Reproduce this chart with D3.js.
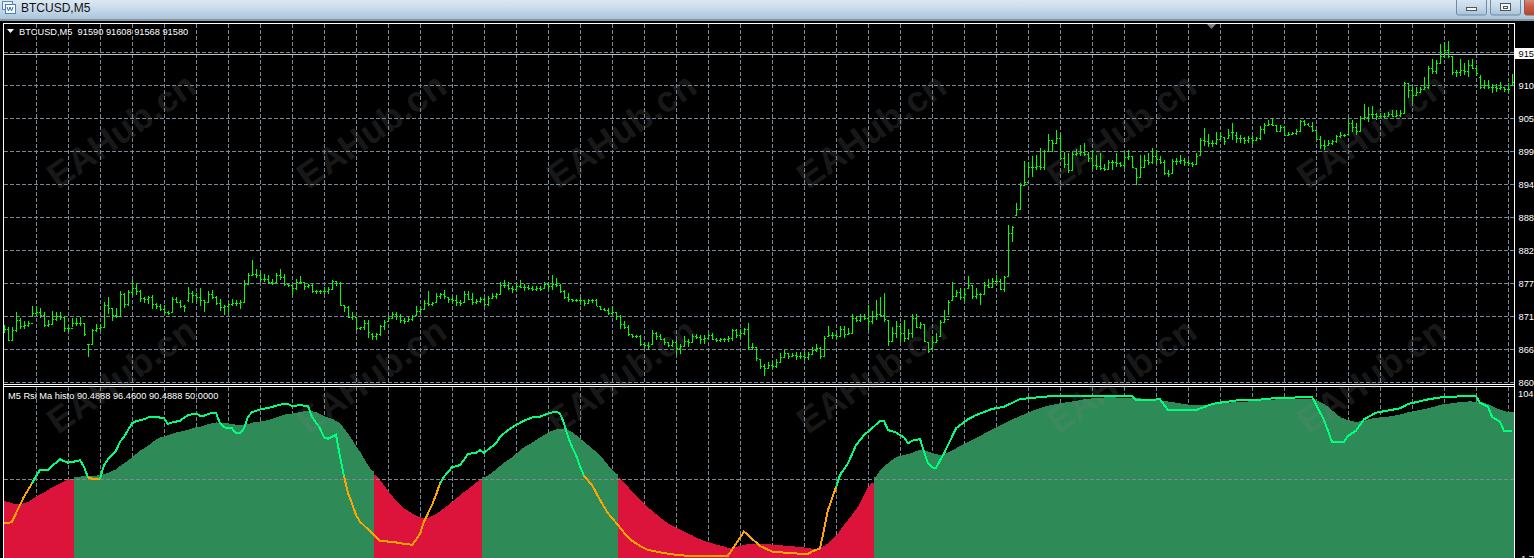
<!DOCTYPE html>
<html>
<head>
<meta charset="utf-8">
<title>BTCUSD,M5</title>
<script src="https://cdnjs.cloudflare.com/ajax/libs/d3/7.8.5/d3.min.js"></script>
<style>
  html, body { margin: 0; padding: 0; background: #000; overflow: hidden; }
  svg { display: block; }
  text { font-family: "Liberation Sans", Arial, sans-serif; }
</style>
</head>
<body>
<div id="chart"></div>
<script>
// price values are in hundreds (871.3 = 87130)
const highs = [
  869.5,869.2,869.1,871.6,870.6,870.1,870.2,872.7,872.7,872.4,871.6,870.3,871.9,871.7,871.6,871,869.5,870.7,870.6,870.8,
  869.9,866.4,868.8,869.7,869.7,873.4,874.1,872.3,872.3,875.2,874.9,875.3,877,876.4,875.3,874.2,874.3,874.5,873.1,873,
  872.8,871.9,874.2,874.1,873.7,872.8,875.9,875.2,874.8,875.6,873.7,875.1,875.3,874.3,873.8,872.8,873.2,873.8,873.7,873.6,
  877,878.2,880.3,878.9,878.1,878,877.8,877.1,878.2,878.8,878,876.4,876.4,877.1,877.7,876.7,876.4,876.3,875.4,875.4,
  875.8,875.8,877,876.9,876.6,872.8,872.7,871.7,870.8,869.2,870.3,870.4,868.1,868.1,869.5,870.4,871,871.6,871.7,
  871.3,870.6,870.8,871.2,872.6,872.3,873.6,875.1,873.4,874.8,874.9,875.4,874.2,874.2,874.5,873.6,875.1,875.2,874.8,873.9,
  874.1,874.2,874.3,874.9,874.9,876.7,877,876.7,876,876.3,877,876.3,876.2,876,876,876,876.7,876.7,877.8,877.3,
  876.4,875.3,874.8,873.9,873.9,874.2,873.6,873.8,873.9,873.8,872.7,872.4,872.3,872.6,871.7,871.2,870.2,869.5,868,867.8,
  867.8,866.7,866.7,868.7,868.4,868,867.4,866.7,867,867,866.3,867.6,867.1,868,868,867.8,867.8,868,868.1,867.3,
  867.4,867.4,867.6,868.8,868.9,868.8,869,869.9,866.5,865.8,863.9,863,863.4,863.5,863.9,864.8,865.3,864.8,864.9,865,
  865,865,865,865.8,866.3,865.9,867.7,869.3,868.4,868.4,869.3,869.3,869,871.4,871,871.4,871.4,872.8,871.9,873.7,
  874.2,874.8,870.4,869.2,870.2,869.9,870.3,868.8,871.4,871.3,870,869.7,866.7,867.6,868.1,870.3,872,873.7,876.6,875.3,
  875.6,875.6,877.6,876.2,875.6,874.9,876.7,877.1,877.3,877.8,877.1,877.7,886.2,886,889.8,893.1,896.9,896.7,897.6,897.8,
  899,898.7,901.4,900.4,902,901.4,898.4,898.1,898.4,898.8,899.5,899.8,898.4,898.7,897.8,898.1,896.4,897,897,898.1,
  896.7,898.4,898.6,897.6,895.6,897.8,897.8,898.1,899,898.7,897.6,897,895.3,897.1,897.3,897.8,897.4,897,896.7,898.1,
  900.6,902.4,901.3,900.3,901.7,901.7,900.8,902.1,903.1,901.6,901.2,900.8,901,901,900.9,902.6,903.1,903.6,904,902.8,
  902.8,902.7,901.7,901.7,902.1,903.7,903.7,903.1,903.4,902,901,900.3,900.4,900.4,901.2,901.6,901.4,903.8,903.6,903.2,
  904.3,906.4,905.8,906,904.9,904.8,904.8,905,905.3,905.3,905.4,910,909.9,909.1,909.2,909.2,910.9,912.7,913.8,913.7,
  916.3,916.7,916.8,914.3,912,913.8,913.1,913.6,913.8,912.8,911.2,910.3,910.3,909.7,909.7,910,909.1,909.8,911.3
];
const lows = [
  868.2,866.9,866.9,868.4,868.9,868.9,869.2,870.9,871,870.6,869.1,869.1,869.7,870.2,870.4,868.4,868.4,869.2,869.3,869.3,
  867.7,864.2,866.3,868.4,868.5,869.2,871.4,870.1,870.6,870.8,872.3,872.6,874.3,874.5,873.4,873.2,873,872.1,872.1,871.9,
  871.4,871.2,871.6,873.1,872.4,871.7,873.4,873.2,873.4,872.6,871.7,873.2,873.8,872.8,871.9,871.2,871.7,872.6,872.6,872.1,
  873.4,876.2,877.7,877.3,876.6,876.6,876.4,876.2,876.6,877,876,875.8,874.5,875.4,876.4,875.4,875.6,874.8,874.7,874.7,
  874.7,874.7,875.3,876,872.7,871.6,870.6,870.4,868.7,868.7,868.7,867.4,867,867,867.7,868.7,870.2,870.6,870.4,
  869.9,869.7,870.1,870.1,871.2,871.4,872.1,872.6,872.6,873.4,873.9,873.9,873.2,873.1,872.7,872.6,873.4,873.6,872.8,873,
  873.1,872.6,872.7,873.9,873.8,874.7,875.6,875.4,874.9,875.1,875.6,875.2,875.3,875.1,875.1,875.1,875.6,875.4,875.4,875.9,
  874.9,873.9,873.4,873.4,873.4,872.8,872.6,873,873.1,872.6,872,871.9,871.2,871.2,870.4,868.9,868.9,867.7,867.4,867.4,
  866,865.6,865.3,866.4,867,867,866.2,865.8,865.8,864.5,864.7,865.8,865.8,866.6,867.1,866.4,866.4,867.1,867,866.6,
  866.6,866.7,866.7,866.9,867.4,867.4,867.8,865.4,865.3,863.5,862.1,861,862.4,862.3,862.3,863.2,864.1,863.9,864.1,863.7,
  863.9,863.6,863.6,864.5,865,863.9,864.1,867.6,867.1,867.1,867.6,867.3,868,868.1,870,870,870.3,868.6,869.7,870.3,
  870.9,870,866,866.7,867.3,866.7,866.6,867,867.3,869,868.8,866.7,864.9,865.6,866.6,867.6,870,871.2,873.6,874.1,
  873.7,873.4,875.6,873.8,873.9,872.8,874.5,875.6,875.8,876.5,875.3,875,877.6,883.4,887.8,888.7,892.8,894.2,894.2,895.3,
  895.3,895.3,898.4,898.4,899.8,897,895.6,894.9,895.1,897.6,897.6,897.6,896.7,895.3,895.3,895.3,895.2,895.3,895.3,895.9,
  895.8,895.6,897,895.6,892.8,894.2,895.9,896.2,896.4,896.4,896.4,894.5,894.2,894.8,896.2,896.3,896,896,895.9,896.2,
  897.8,899.3,899.2,899.2,899.5,900.3,899.5,900.6,900.4,899.9,899.8,899.7,899.8,899.7,900.3,900.3,901.4,902.6,902.6,901.7,
  901.6,901,901,901.2,901.2,901.7,902.6,902.6,901.7,900.3,898.8,898.6,899.5,899.5,899.8,900.6,900.8,901.3,901.7,901.2,
  901.6,903.6,903.4,903.9,903.7,904,904,904.1,904.1,904.1,904.1,904.8,907.3,906.4,907.6,908.1,908.6,908.8,911.4,911.4,
  913.1,914,914,911.2,910.9,911,911.2,910.8,912.1,911,908.8,908.9,908.8,908.2,908.4,908.6,908.4,908.2,909.5
];
const closes = [
  868.9,867,868.6,870.3,869.3,869.5,869.8,871.5,871.6,871.2,869.5,869.7,870.5,871,870.8,869,869,869.9,869.8,869.8,
  868,866.3,868.6,869,869.1,872.9,872.3,871.2,871,874.6,873,875,875.6,875.2,874,873.9,874.1,873,872.7,872.2,
  871.7,871.5,873.9,873.3,872.6,872.5,874.8,874.5,874.2,873.6,873.3,874.6,874.1,873.2,872.5,872.6,873,873.2,873.2,873.4,
  876.4,877.9,878,877.9,877.2,877.1,876.7,876.5,877.9,877.5,876.3,876.2,875.7,876.6,876.6,876,876.1,875.2,875.1,875.1,
  875.1,875.5,876.8,876.5,872.9,872.5,870.8,871,869,869.1,869.9,868.3,867.7,868,869.3,870,870.7,871.3,871,
  870.3,870.1,870.5,871,871.9,872.1,873.1,873,873.2,874.3,874.6,874.4,873.8,873.6,873.3,873.1,874.6,873.8,873.4,873.5,
  873.9,873,874,874.4,874.6,876.2,876.1,875.7,875.5,876,875.9,875.8,875.7,875.5,875.6,875.5,876.3,876,876.4,876.2,
  875.2,874.2,873.8,873.7,873.6,873.6,873.2,873.7,873.6,872.7,872.2,872,871.5,871.6,871,869.7,869.2,868,867.7,867.6,
  866.4,866.2,866,868.2,867.6,867.2,866.6,866.1,866.6,865.6,866,866.9,866.6,867.6,867.5,867.1,867.4,867.9,867.2,867,
  867.1,867.2,867.3,868.6,867.9,868.2,868.9,865.9,865.9,864,862.6,862.4,862.8,862.6,863.4,864.2,864.8,864.3,864.5,864.4,
  864.4,864.2,864.6,865.4,865.6,864.3,867.4,867.9,867.8,867.7,868.8,868,868.2,870.6,870.4,871,870.7,870.2,871,871.3,
  871.2,870.5,866.8,868.2,869.4,868.2,867.4,868.1,870.7,869.2,869.6,866.9,865.2,866.6,867,870,870.5,873.4,874.4,875,
  874.2,874.6,876.2,874.4,874.7,874.6,876.2,875.9,876.8,876.9,875.5,877.5,884.8,885.9,888.9,892.9,893.4,895.9,895.8,896,
  895.9,898.5,900.3,899.9,900.6,897.4,896.3,895.3,898,898.2,898.3,898,897.4,896.1,896,895.6,895.5,896.6,896.6,896.5,
  896.2,897.5,897.6,895.9,894.1,895.9,897,896.6,897.6,897.2,896.6,894.8,894.7,896.9,896.8,897,896.6,896.5,896.3,897.6,
  900.4,900.2,899.8,899.9,900.5,901,900.1,901.2,901.6,900.6,900.6,900.3,900.7,900.4,900.6,902.2,902.8,903,902.9,901.8,
  902.5,901.2,901.3,901.5,901.9,903.5,903,902.7,902,900.5,899.5,899.3,899.8,900.2,901,901.1,901.2,903.2,902.5,901.9,
  904,904.2,904.6,904.6,904.3,904.3,904.4,904.6,904.4,904.5,904.9,909.8,908.6,907.9,908.4,908.8,909.1,912.3,911.8,913.2,
  914.3,915.3,914.4,911.6,911.6,912,911.8,912.8,912.4,911.5,909.2,909.5,909.2,909.2,909,909.2,908.8,908.9,910
];
const opens = [
  869,868.9,867,868.6,870.3,869.3,869.5,869.8,871.5,871.6,871.2,869.5,869.7,870.5,871,870.8,869,869,869.9,869.8,
  869.8,866.4,866.3,868.6,869,869.1,872.9,872.3,871.2,871,874.6,873,875,875.6,875.2,874,873.9,874.1,873,872.7,
  872.2,871.7,871.6,873.9,873.3,872.6,873.6,874.8,874.5,874.2,873.6,873.3,874.6,874.1,873.2,872.5,872.6,873,873.2,873.2,
  873.4,876.4,877.9,878,877.9,877.2,877.1,876.7,876.6,877.9,877.5,876.3,876.2,875.7,876.6,876.6,876,876.1,875.2,875.1,
  875.1,875.1,875.5,876.8,876.5,872.8,872.5,870.8,870.8,869,869.1,869.9,868,867.7,868,869.3,870.2,870.7,871.3,
  871,870.3,870.1,870.5,871.2,871.9,872.1,873.1,873,873.4,874.3,874.6,874.2,873.8,873.6,873.3,873.4,874.6,873.8,873.4,
  873.5,873.9,873,874,874.4,874.7,876.2,876.1,875.7,875.5,876,875.9,875.8,875.7,875.5,875.6,875.6,876.3,876,876.4,
  876.2,875.2,874.2,873.8,873.7,873.6,873.6,873.2,873.7,873.6,872.7,872.2,872,871.5,871.6,871,869.7,869.2,868,867.7,
  867.6,866.4,866.2,866.4,868.2,867.6,867.2,866.6,866.1,866.6,865.6,866,866.9,866.6,867.6,867.5,867.1,867.4,867.9,867.2,
  867,867.1,867.2,867.3,868.6,867.9,868.2,868.9,865.9,865.8,863.9,862.6,862.4,862.8,862.6,863.4,864.2,864.8,864.3,864.5,
  864.4,864.4,864.2,864.6,865.4,865.6,864.3,867.7,867.9,867.8,867.7,868.8,868,868.2,870.6,870.4,871,870.7,870.2,871,
  871.3,871.2,870.4,866.8,868.2,869.4,868.2,867.4,868.1,870.7,869.2,869.6,866.7,865.6,866.6,867.6,870,870.5,873.6,874.4,
  875,874.2,875.6,876.2,874.4,874.7,874.6,876.2,875.9,876.8,876.9,875.5,877.6,884.8,887.8,888.9,892.9,893.4,895.9,895.8,
  896,895.9,898.5,900.3,899.9,900.6,897.4,896.3,895.3,898,898.2,898.3,898,897.4,896.1,896,895.6,895.5,896.6,896.6,
  896.5,896.2,897.5,897.6,895.6,894.2,895.9,897,896.6,897.6,897.2,896.6,894.8,894.8,896.9,896.8,897,896.6,896.5,896.3,
  897.8,900.4,900.2,899.8,899.9,900.5,900.8,900.6,901.6,901.2,900.6,900.6,900.3,900.7,900.4,900.6,902.2,902.8,903,902.8,
  901.8,902.5,901.2,901.3,901.5,901.9,903.5,903,902.7,902,900.5,899.5,899.5,899.8,900.2,901,901.1,901.3,903.2,902.5,
  901.9,904,904.2,904.6,904.6,904.3,904.3,904.4,904.6,904.4,904.5,904.9,909.8,908.6,907.9,908.4,908.8,909.1,912.3,911.8,
  913.2,914.3,915.3,914.3,911.6,911.6,912,911.8,912.8,912.4,910.8,909.2,909.5,909.2,909.2,909,909.1,908.9,909.5
];

// histogram of the rsi average, one value per bar
const histValues = [
  36.6,35.8,35,34.6,34.6,35,35.8,37.5,39.1,40.4,41.7,43.3,45,46.2,47.5,48.7,50,50.2,51.2,51.6,
  52.1,52.3,52.3,52.3,52.5,53.1,54.1,55.2,56.2,58.3,60,61.6,63.7,65.8,67.9,69.4,71,72.9,75,76.2,
  76.6,77.7,78.3,79.4,79.8,80.4,80.8,81.9,82.5,82.9,83.7,84.6,85,85.6,85.4,85.4,85,84.6,84.1,84.1,
  84.1,84.6,85.4,85.8,86.2,86.6,87,87.9,88.7,89.6,90.4,90.8,91.2,91.6,92.1,92.5,92.9,92.5,92.1,90.8,
  89.6,88.7,87.9,86.6,85,81.9,78.7,75,70.8,67.3,63.1,58.9,55.4,52.7,49.6,46.2,42.9,39.8,36.6,
  34,31.9,30.4,28.7,27.5,26.2,25.4,25.8,27.1,28.3,30,31.9,33.7,35.8,37.9,40,42.1,43.7,45.8,47.9,49.6,
  51.2,52.5,54.1,56.2,58.3,60.4,62.1,63.7,65.8,68.3,70,71.4,72.9,74.6,76.2,77.7,79.1,80.4,81.2,81.4,
  81.4,80.8,79.6,77.7,75.6,73.5,71.4,69.4,67.3,64.6,62.1,58.9,56.2,53.3,
  50.6,47.9,45.4,42.3,39.6,37.1,34.6,32.5,30.4,28.3,26.2,24.1,22.5,21,19.8,18.5,17.3,16,15,13.7,
  12.5,11.4,10.8,10,9.1,8.5,7.9,7.1,7.1,7.5,8.3,8.9,9.6,9.8,9.8,9.6,9.6,9.4,9.1,8.9,
  8.7,8.5,8.3,8.1,7.9,7.7,7.3,6.9,6.6,6.4,7.1,8.3,10,12.1,14.6,17.9,21.4,24.6,27.7,31.2,
  35,40.2,45,47.9,51.6,55.4,58.3,60,62.1,63.7,
  64.6,65.2,65.8,66.6,67.7,68.3,68.1,67.5,66.6,65.8,65.2,65.8,66.6,67.9,69.4,70.8,72.1,73.3,74.6,75.8,
  77.1,78.5,79.8,81,82.3,83.7,85,86.2,87.5,88.5,89.6,90.6,91.6,92.7,93.7,94.6,95.4,96,96.6,97.1,
  97.5,97.9,98.3,98.7,99.1,99.6,100,100.4,100.6,100.8,101,101.2,101.2,101.2,101.2,101,100.9,100.8,100.7,100.6,
  100.6,100.4,100.4,100.2,100,99.6,99.1,98.7,98.3,97.9,97.5,97.1,96.8,96.6,96.4,96.4,96.6,96.8,97.1,97.3,
  97.5,97.7,97.9,98.1,98.1,98.3,98.5,98.7,98.9,99.1,99.4,99.6,99.6,99.8,100,100,100.2,100.2,100.4,100.4,
  100.4,100.4,100.4,100.2,99.6,98.5,97.1,95.4,93.3,91.2,89.1,87.9,87.1,86.4,86,86.2,86.6,87.5,88.1,88.5,
  88.7,88.9,89.1,89.6,90,90.6,91.2,91.9,92.3,92.9,93.3,93.9,94.4,95,95.8,96.4,97.1,97.3,97.5,97.9,
  98.3,98.5,98.7,98.7,98.5,98.3,97.9,97.1,95.8,94.6,93.7,92.9,92.1,92.1
];
// first and last bar of each colour stretch of the histogram
const histStretches = [[0, 17], [18, 92], [93, 119], [120, 153], [154, 217], [218, 377]];
const histColors = ["#dc143c", "#2e8b57", "#dc143c", "#2e8b57", "#dc143c", "#2e8b57"];

// rsi line, bar number and value of each corner
const rsiBars = [
  0,1,2,3,4,5,6,7,8,9,11,12,14,15,16,17,19,20,21,22,24,25,26,28,29,30,32,33,35,36,38,40,41,42,44,46,48,49,50,52,53,54,55,57,58,59,60,
  61,62,64,66,68,70,71,72,74,76,77,79,80,81,83,84,85,86,87,88,89,91,93,94,97,
  99,102,103,104,105,106,107,108,109,110,112,114,116,118,119,120,123,124,126,128,130,132,134,136,138,139,140,141,142,143,144,145,147,149,151,153,155,157,159,161,164,167,170,181,182,185,189,192,197,201,202,204,205,206,208,209,211,213,215,217,219,220,221,223,
  224,225,226,227,229,230,231,232,233,235,237,238,241,243,247,250,254,258,262,282,283,289,291,294,298,302,305,309,313,317,323,327,330,332,335,336,338,340,343,349,351,356,360,368,369,371,372,374,375,377
];
const rsiValues = [
  22.5,22.5,23.5,28.7,33.9,39.1,43.3,47.5,52.1,55.8,55.8,58.3,62.5,61.4,60.4,60.8,61.9,57.9,51.2,50.4,50.4,58.9,62.5,67.9,73.5,76.6,85,86.4,87.5,88.7,89.1,88.1,84.6,85.6,86.6,90.2,91.2,89.8,89.8,91.6,91.6,85,82.5,81.9,78.7,78.7,81.9,
  89.1,91.9,93.7,94.6,96,97.3,97.1,95.8,96.4,95.8,89.1,81.9,76.2,75.4,77.9,64.1,52.1,41.2,35,27.7,23.5,18.7,13.7,11.2,11,
  10,9,12.1,15.8,23.5,28.7,33.9,40.2,47.5,51.6,57.5,58.9,65.8,66.6,68.3,66.6,72.5,76.6,80.8,84,86.6,88.7,89.1,91.2,92.3,91.2,85,76.6,70.4,65.2,58.3,52.1,46.4,37.1,28.7,22.9,16.6,11.6,8.3,5.8,4.3,3.1,2.3,2.3,5.8,17.3,8.3,4.8,3.7,3.3,4.8,6.8,18.3,30.8,45,52.7,60,71.4,77.7,81.9,86.6,86.6,80.8,79.3,
  77.7,76.2,72.5,74.1,75.2,67.3,60,57.5,57.1,66.2,76.6,81.9,87.5,90.2,94,95.4,100.2,101.2,102.1,102.1,99.6,100,93.3,93.3,93.3,97.1,98.3,99.6,99.6,100.6,101.2,101.6,87.1,73.5,73.5,77.1,80.4,87.5,91.7,94.4,97.1,100,101.6,102.1,97.9,95.4,89.1,86,80.2,80.2
];
// bars where the line changes colour, it starts orange
const rsiColorBars = [0, 7, 21, 24, 85, 109, 145, 208, 377];

const priceTicks = [915, 909.5, 904, 898.5, 893, 887.5, 882, 876.5, 871, 865.5, 860];
const priceLabels = ["915", "910", "905", "899", "894", "888", "882", "877", "871", "866", "860"];
const bidLevel = 914.9;
const rsiLevel = 50;
const rsiTicks = [104, -1.7];
const rsiLabels = ["104", "-1.7"];
const headerText = "BTCUSD,M5  91590 91608 91568 91580";
const rsiHeaderText = "M5 Rsi Ma histo 90.4888 96.4600 90.4888 50.0000";

// watermark grid, every 250px in both directions
const markColumns = [123, 373, 623, 873, 1123, 1373];
const markRows = [133, 378];

const width = 1534, height = 558;
const nBars = highs.length;

const svg = d3.select("#chart").append("svg")
  .attr("width", width)
  .attr("height", height);

const defs = svg.append("defs");

function gradient(id, stops) {
  const g = defs.append("linearGradient").attr("id", id)
    .attr("x1", 0).attr("y1", 0).attr("x2", 0).attr("y2", 1);
  stops.forEach(s => g.append("stop").attr("offset", s[0]).attr("stop-color", s[1]));
}
gradient("barGrad", [[0, "#dbe8f3"], [0.5, "#c6d9e9"], [1, "#aac5db"]]);
gradient("btnGrad", [[0, "#dfeaf4"], [0.5, "#c9dbea"], [1, "#a9c3da"]]);
gradient("closeGrad", [[0, "#e0a08f"], [0.5, "#c9604a"], [1, "#b8432e"]]);

defs.append("clipPath").attr("id", "priceClip").append("rect")
  .attr("x", 4).attr("y", 24).attr("width", 1510).attr("height", 360);
defs.append("clipPath").attr("id", "rsiClip").append("rect")
  .attr("x", 4).attr("y", 387).attr("width", 1510).attr("height", 171);

// scales
const x = d3.scaleLinear().domain([0, nBars - 1]).range([4, 1512]);
const priceY = d3.scaleLinear().domain([860, 915]).range([382, 52]);
const rsiY = d3.scaleLinear().domain([50, 104]).range([479.3, 393]);

const px = v => Math.round(v) + 0.5;

// window chrome
svg.append("rect").attr("width", width).attr("height", height).attr("fill", "#000");
svg.append("rect").attr("width", width).attr("height", 19).attr("fill", "url(#barGrad)");
svg.append("rect").attr("y", 19).attr("width", width).attr("height", 2).attr("fill", "#8a96a2");

const icon = svg.append("g");
icon.append("rect").attr("x", 2.5).attr("y", 1.5).attr("width", 10).attr("height", 8)
  .attr("fill", "#eaf2fa").attr("stroke", "#5f87b5");
icon.append("rect").attr("x", 5.5).attr("y", 4.5).attr("width", 10).attr("height", 9)
  .attr("fill", "#fff").attr("stroke", "#4f7fbb");
icon.append("path").attr("d", "M7 7l1.5 4 1.5-4l1.5 4 1.5-4").attr("fill", "none").attr("stroke", "#2d6fb8");

svg.append("text").attr("x", 21).attr("y", 12)
  .attr("font-size", 12).attr("fill", "#111").text("BTCUSD,M5");

[1456, 1490].forEach(bx => {
  svg.append("rect").attr("x", bx + 0.5).attr("y", -3).attr("width", 30).attr("height", 18).attr("rx", 2)
    .attr("fill", "url(#btnGrad)").attr("stroke", "#6f8aa4");
});
svg.append("rect").attr("x", 1524.5).attr("y", -3).attr("width", 14).attr("height", 18).attr("rx", 2)
  .attr("fill", "url(#closeGrad)").attr("stroke", "#8f5a50");
svg.append("rect").attr("x", 1466.5).attr("y", 7.5).attr("width", 10).attr("height", 3)
  .attr("fill", "#f4f6f8").attr("stroke", "#4a5560");
svg.append("rect").attr("x", 1500.5).attr("y", 3.5).attr("width", 10).attr("height", 7)
  .attr("fill", "#f4f6f8").attr("stroke", "#4a5560");
svg.append("rect").attr("x", 1503.5).attr("y", 6.5).attr("width", 4).attr("height", 2)
  .attr("fill", "none").attr("stroke", "#4a5560");

// grid of the two panels
const gridBars = d3.range(8, nBars, 8);
const gridColor = "#778899";

const grid = svg.append("g").attr("stroke", gridColor).attr("stroke-dasharray", "4,2")
  .attr("shape-rendering", "crispEdges");
grid.selectAll("line.vp").data(gridBars).enter().append("line").attr("class", "vp")
  .attr("x1", d => px(x(d))).attr("x2", d => px(x(d)))
  .attr("y1", 24).attr("y2", 384);
grid.selectAll("line.vr").data(gridBars).enter().append("line").attr("class", "vr")
  .attr("x1", d => px(x(d))).attr("x2", d => px(x(d)))
  .attr("y1", 387).attr("y2", 558);
grid.selectAll("line.h").data(priceTicks).enter().append("line").attr("class", "h")
  .attr("x1", 4).attr("x2", 1514)
  .attr("y1", d => px(priceY(d))).attr("y2", d => px(priceY(d)));

// bid line
svg.append("line")
  .attr("x1", 4).attr("x2", 1514)
  .attr("y1", px(priceY(bidLevel)) + 1).attr("y2", px(priceY(bidLevel)) + 1)
  .attr("stroke", "#c0c0c0").attr("shape-rendering", "crispEdges");

// price bars
const bars = svg.append("g").attr("clip-path", "url(#priceClip)")
  .attr("stroke", "#00ff00").attr("shape-rendering", "crispEdges");
bars.selectAll("line.stem").data(d3.range(nBars)).enter().append("line").attr("class", "stem")
  .attr("x1", i => px(x(i))).attr("x2", i => px(x(i)))
  .attr("y1", i => priceY(highs[i])).attr("y2", i => priceY(lows[i]));
bars.selectAll("line.open").data(d3.range(nBars)).enter().append("line").attr("class", "open")
  .attr("x1", i => px(x(i)) - 1.5).attr("x2", i => px(x(i)))
  .attr("y1", i => px(priceY(opens[i]))).attr("y2", i => px(priceY(opens[i])));
bars.selectAll("line.close").data(d3.range(nBars)).enter().append("line").attr("class", "close")
  .attr("x1", i => px(x(i))).attr("x2", i => px(x(i)) + 1.5)
  .attr("y1", i => px(priceY(closes[i]))).attr("y2", i => px(priceY(closes[i])));

// histogram, the top edge runs straight from bar to bar
const histArea = d3.area()
  .x(d => d.pos)
  .y0(560)
  .y1(d => rsiY(d.value));
const hist = svg.append("g").attr("clip-path", "url(#rsiClip)").attr("shape-rendering", "crispEdges");
histStretches.forEach((s, k) => {
  const bs = d3.range(s[0], s[1] + 1);
  const pts = bs.map(i => ({ pos: x(i), value: histValues[i] }));
  pts.unshift({ pos: x(s[0]) - 2, value: histValues[s[0]] });
  pts.push({ pos: x(s[1]) + 2, value: histValues[s[1]] });
  hist.append("path").datum(pts).attr("d", histArea).attr("fill", histColors[k]);
});

// 50 level
svg.append("line")
  .attr("x1", 4).attr("x2", 1514)
  .attr("y1", px(rsiY(rsiLevel))).attr("y2", px(rsiY(rsiLevel)))
  .attr("stroke", "#808890").attr("stroke-dasharray", "4,2")
  .attr("shape-rendering", "crispEdges");

// rsi line, one path per colour stretch
const rsiPoints = rsiBars.map((b, i) => ({ bar: b, value: rsiValues[i] }));
const rsiLine = d3.line().x(d => x(d.bar)).y(d => rsiY(d.value));
const rsiGroup = svg.append("g").attr("clip-path", "url(#rsiClip)");
d3.pairs(rsiColorBars).forEach((p, k) => {
  rsiGroup.append("path")
    .datum(rsiPoints.filter(d => d.bar >= p[0] && d.bar <= p[1]))
    .attr("d", rsiLine)
    .attr("fill", "none")
    .attr("stroke", k % 2 === 0 ? "#ffa500" : "#00ff7f")
    .attr("stroke-width", 2)
    .attr("shape-rendering", "crispEdges");
});

// frames
const frame = svg.append("g").attr("fill", "none").attr("stroke", "#fff").attr("shape-rendering", "crispEdges");
frame.append("line").attr("x1", 3.5).attr("x2", 3.5).attr("y1", 23).attr("y2", 558);
frame.append("line").attr("x1", 1514.5).attr("x2", 1514.5).attr("y1", 23).attr("y2", 558);
frame.append("line").attr("x1", 3).attr("x2", 1515).attr("y1", 23.5).attr("y2", 23.5);
frame.append("line").attr("x1", 3).attr("x2", 1515).attr("y1", 384.5).attr("y2", 384.5);
frame.append("line").attr("x1", 3).attr("x2", 1515).attr("y1", 386.5).attr("y2", 386.5);

// right axis labels
const priceAxis = svg.append("g").attr("font-size", 9.3);
priceAxis.selectAll("text").data(priceTicks).enter().append("text")
  .attr("x", 1518.5)
  .attr("y", d => priceY(d) + 4)
  .attr("fill", "#fff")
  .text((d, i) => priceLabels[i]);

svg.append("rect").attr("x", 1515).attr("y", 48).attr("width", 19).attr("height", 11).attr("fill", "#fff");
svg.append("text").attr("x", 1518.5).attr("y", priceY(bidLevel) + 4).attr("font-size", 9.3)
  .attr("fill", "#000").text(priceLabels[0]);

const rsiAxis = svg.append("g").attr("font-size", 9.3);
rsiAxis.selectAll("text").data(rsiTicks).enter().append("text")
  .attr("x", 1518)
  .attr("y", (d, i) => rsiY(d) + (i === 0 ? 4 : 0))
  .attr("fill", "#fff")
  .text((d, i) => rsiLabels[i]);

// header texts and markers
svg.append("path").attr("d", "M7 29h7l-3.5 4z").attr("fill", "#fff");
svg.append("text").attr("x", 19).attr("y", 35).attr("font-size", 9.25)
  .attr("fill", "#fff").attr("xml:space", "preserve").text(headerText);
svg.append("text").attr("x", 8).attr("y", 399).attr("font-size", 9.25)
  .attr("fill", "#fff").text(rsiHeaderText);
svg.append("path").attr("d", "M1207 24h9l-4.5 5z").attr("fill", "#808080");

// watermark
const marks = svg.append("g");
markRows.forEach(ry => {
  markColumns.forEach(cx => {
    marks.append("text")
      .attr("transform", `translate(${cx},${ry}) rotate(-35)`)
      .attr("text-anchor", "middle")
      .attr("dominant-baseline", "middle")
      .attr("font-size", 36)
      .attr("font-weight", "bold")
      .attr("fill", "rgba(128,128,128,0.2)")
      .text("EAHub.cn");
  });
});
</script>
</body>
</html>
